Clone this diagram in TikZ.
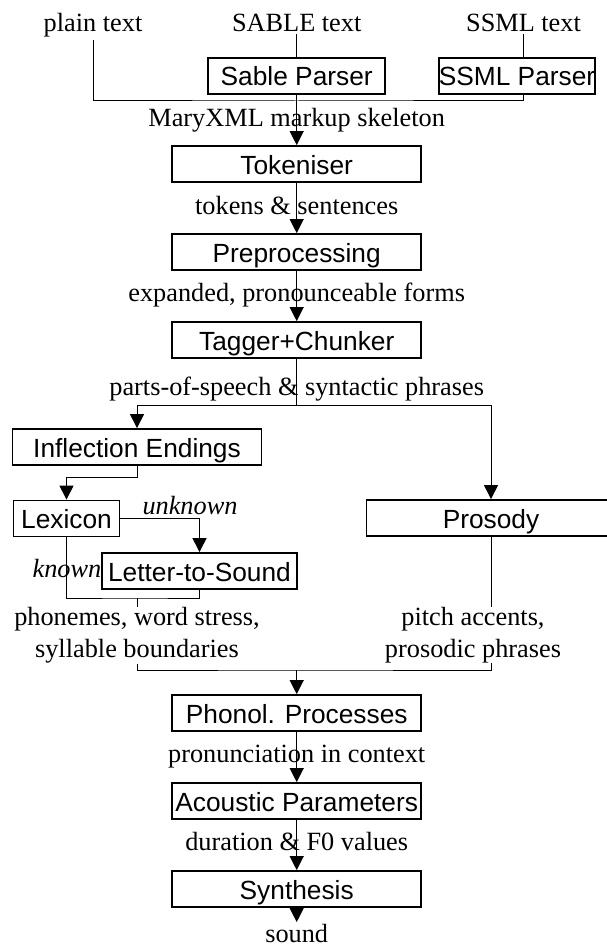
\documentclass[tikz,border=0pt]{standalone}
\usepackage{fontspec}
\setmainfont{Liberation Serif}
\newfontfamily\boxfont{Liberation Sans}
\usetikzlibrary{arrows.meta,positioning,calc}

\begin{document}
\begin{tikzpicture}[
  x=1pt, y=-1pt,
  box/.style={draw, line width=1.8pt, minimum width=249pt, minimum height=36pt,
              inner sep=0pt, text height=21pt, text depth=1pt,
              font=\boxfont\fontsize{26.3}{30}\selectfont},
  lbl/.style={inner sep=2pt, font=\fontsize{26.3}{32.5}\selectfont},
  mlbl/.style={inner sep=0pt, align=center, font=\fontsize{26.3}{32.5}\selectfont},
  conn/.style={line width=1pt},
  arr/.style={-{Triangle[length=14pt,width=14pt]}, line width=1pt}
]
\useasboundingbox (0,0) rectangle (607,947);

% inputs
\node[lbl, anchor=base] (plain)    at (93,32)    {plain text};
\node[lbl, anchor=base] (sabletxt) at (296.7,32) {SABLE text};
\node[lbl, anchor=base] (ssmltxt)  at (523.5,32) {SSML text};

\node[box, minimum width=177pt] (sablep) at (296.7,76) {Sable Parser};
\node[box, minimum width=156pt] (ssmlp)  at (517,76)   {SSML Parser};
\coordinate (join) at (296.7,101);

% main column
\node[box] (tok)  at (296.7,164) {Tokeniser};
\node[box] (pre)  at (296.7,252) {Preprocessing};
\node[box] (tag)  at (296.7,340) {Tagger+Chunker};
\coordinate (split) at (296.7,405);

\node[box] (infl) at (137,447) {Inflection Endings};
\node[box, minimum width=106pt]   (lex) at (66.5,518.5) {Lexicon};
\node[box, minimum width=195.5pt] (l2s) at (199.5,571)  {Letter-to-Sound};
\node[box] (pros) at (491,518) {Prosody};
\coordinate (wordjoin) at (137,598);

\node[mlbl] (phlab)    at (137,635.1) {phonemes, word stress,\\syllable boundaries};
\node[mlbl] (pitchlab) at (473,635.1) {pitch accents,\\prosodic phrases};
\coordinate (merge) at (296.7,670);

\node[box] (phon) at (296.7,713) {Phonol. Processes};
\node[box] (ac)   at (296.7,801) {Acoustic Parameters};
\node[box] (syn)  at (296.7,889) {Synthesis};
\node[lbl, anchor=base] (sound) at (296.7,942.5) {sound};

% labels on the connectors
\node[lbl, anchor=base] (lmary)  at (296.7,126)   {MaryXML markup skeleton};
\node[lbl, anchor=base] (ltok)   at (296.7,214.5) {tokens \& sentences};
\node[lbl, anchor=base] (lexp)   at (296.7,301)   {expanded, pronounceable forms};
\node[lbl, anchor=base] (lpos)   at (296.7,395)   {parts-of-speech \& syntactic phrases};
\node[lbl, anchor=base] (lunk)   at (190,514)     {\itshape unknown};
\node[lbl, anchor=base] (lknown) at (67,577)      {\itshape known};
\node[lbl, anchor=base] (lpron)  at (296.7,762)   {pronunciation in context};
\node[lbl, anchor=base] (ldur)   at (296.7,850.5) {duration \& F0 values};

% connectors
\draw[conn] (sabletxt.south) -- (sablep.north);
\draw[conn] (ssmltxt.south) -- (ssmltxt.south |- ssmlp.north);
\draw[conn] (plain.south) |- (join) -| (ssmlp.south -| ssmltxt.south);
\draw[conn] (sablep.south) -- (join);
\draw[arr] (join) -- (tok);
\draw[arr] (tok) -- (pre);
\draw[arr] (pre) -- (tag);
\draw[conn] (tag) -- (split);
\draw[arr] (split) -| (infl);
\draw[arr] (split) -| (pros);
\draw[arr] (infl.south) -- ++(0,11.7) -| (lex);
\draw[arr] (lex.east) -| (l2s);
\draw[conn] (lex.south) |- (wordjoin) -| (l2s.south);
\draw[conn] (wordjoin) -- (phlab.north);
\draw[conn] (pros.south) -- (pros.south |- pitchlab.north);
\draw[conn] (phlab.south) |- (merge) -| (pitchlab.south -| pros.south);
\draw[arr] (merge) -- (phon);
\draw[arr] (phon) -- (ac);
\draw[arr] (ac) -- (syn);
\draw[arr] (syn) -- (sound.north);

\end{tikzpicture}
\end{document}
